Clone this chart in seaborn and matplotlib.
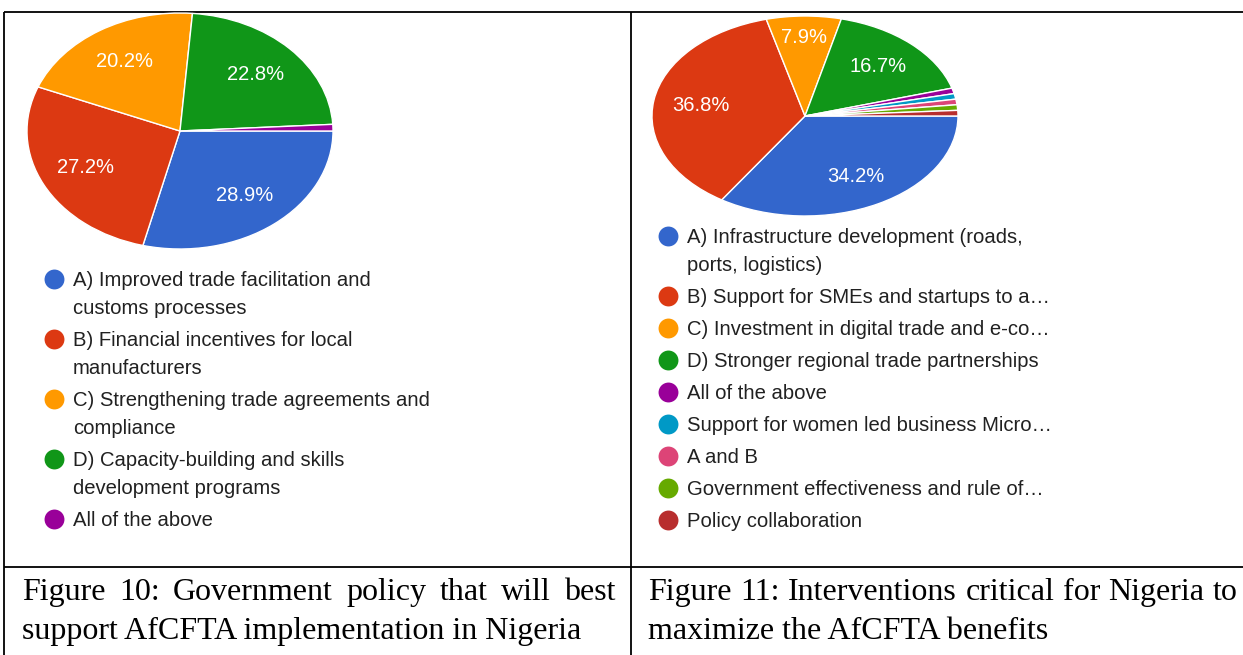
import matplotlib
matplotlib.use("Agg")
import matplotlib.pyplot as plt
import seaborn as sns

sns.set_theme(style="white")
plt.rcParams["font.family"] = ["Liberation Sans", "DejaVu Sans"]

# ---- data -------------------------------------------------------------
fig10_labels = [
    "A) Improved trade facilitation and\ncustoms processes",
    "B) Financial incentives for local\nmanufacturers",
    "C) Strengthening trade agreements and\ncompliance",
    "D) Capacity-building and skills\ndevelopment programs",
    "All of the above",
]
fig10_values = [28.9, 27.2, 20.2, 22.8, 0.9]
fig10_colors = ["#3366cc", "#dc3912", "#ff9900", "#109618", "#990099"]

fig11_labels = [
    "A) Infrastructure development (roads,\nports, logistics)",
    "B) Support for SMEs and startups to a\u2026",
    "C) Investment in digital trade and e-co\u2026",
    "D) Stronger regional trade partnerships",
    "All of the above",
    "Support for women led business Micro\u2026",
    "A and B",
    "Government effectiveness and rule of\u2026",
    "Policy collaboration",
]
fig11_values = [34.2, 36.8, 7.9, 16.7, 0.9, 0.9, 0.9, 0.9, 0.9]
fig11_colors = ["#3366cc", "#dc3912", "#ff9900", "#109618", "#990099",
                "#0099c6", "#dd4477", "#66aa00", "#b82e2e"]

caption10 = ["Figure 10: Government policy that will best",
             "support AfCFTA implementation in Nigeria"]
caption11 = ["Figure 11: Interventions critical for Nigeria to",
             "maximize the AfCFTA benefits"]

# ---- figure -----------------------------------------------------------
W, H = 1243, 655
fig = plt.figure(figsize=(W / 100, H / 100), dpi=100)
fig.patch.set_facecolor("white")

# full-size overlay in pixel units for the table frame, legends and captions
ov = fig.add_axes([0, 0, 1, 1])
ov.set_xlim(0, W)
ov.set_ylim(H, 0)
ov.axis("off")

frame_kw = dict(color="black", linewidth=1.3, solid_capstyle="butt")
ov.plot([4, W], [12, 12], **frame_kw)
ov.plot([4, W], [567, 567], **frame_kw)
ov.plot([4, 4], [12, H], **frame_kw)
ov.plot([631, 631], [12, H], **frame_kw)


def px_axes(x0, y0, x1, y1):
    return fig.add_axes([x0 / W, 1 - y1 / H, (x1 - x0) / W, (y1 - y0) / H])


def draw_pie(ax, values, colors):
    _, _, autotexts = ax.pie(
        values, colors=colors, startangle=0, counterclock=False,
        autopct=lambda p: f"{p:.1f}%" if p >= 5 else "",
        pctdistance=0.69,
        wedgeprops=dict(edgecolor="white", linewidth=1.0),
        textprops=dict(color="white", fontsize=14.5))
    # narrow slices get their label pushed further out toward the rim
    total = sum(values)
    for v, t in zip(values, autotexts):
        if 5 <= 100 * v / total < 10:
            x, y = t.get_position()
            t.set_position((x * 0.79 / 0.69, y * 0.79 / 0.69))
    ax.set_aspect("auto")
    ax.set_xlim(-1, 1)
    ax.set_ylim(-1, 1)
    ax.axis("off")


draw_pie(px_axes(27, 13, 333, 249), fig10_values, fig10_colors)
draw_pie(px_axes(652, 16, 958, 216), fig11_values, fig11_colors)


def draw_legend(labels, colors, x_marker, x_text, y_first):
    y = y_first
    for lab, col in zip(labels, colors):
        ov.scatter([x_marker], [y], s=205, color=col, linewidths=0, zorder=3)
        lines = lab.split("\n")
        for i, line in enumerate(lines):
            ov.text(x_text, y + 7 + 28 * i, line, fontsize=14.6, color="#212121",
                    va="baseline", ha="left")
        y += 32 + 28 * (len(lines) - 1)


draw_legend(fig10_labels, fig10_colors, 54, 73, 279)
draw_legend(fig11_labels, fig11_colors, 668, 687, 236)


def draw_caption(lines, x0, x1, y_base, size=23):
    renderer = fig.canvas.get_renderer()
    kw = dict(fontsize=size, color="black", family="Liberation Serif",
              va="baseline", ha="left")
    for i, line in enumerate(lines):
        y = y_base + 39 * i
        if i < len(lines) - 1:
            words = line.split()
            texts = [ov.text(0, y, w, **kw) for w in words]
            widths = [t.get_window_extent(renderer).width for t in texts]
            gap = (x1 - x0 - sum(widths)) / (len(words) - 1)
            x = x0
            for t, w in zip(texts, widths):
                t.set_x(x)
                x += w + gap
        else:
            ov.text(x0, y, line, **kw)


draw_caption(caption10, 22, 616, 600)
draw_caption(caption11, 648, 1238, 600)

fig.savefig("out.png", dpi=100, facecolor="white")
